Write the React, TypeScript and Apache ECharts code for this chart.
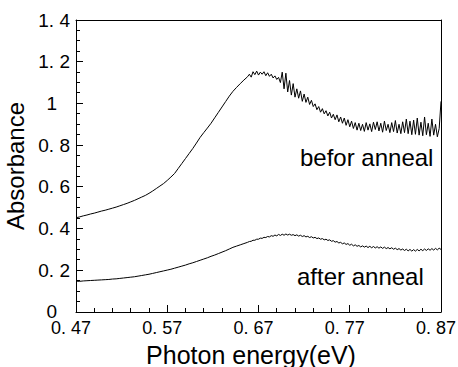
import React, { useEffect, useRef } from "react";
import * as echarts from "echarts";

const energy = [
  0.470, 0.474, 0.478, 0.482, 0.486, 0.490, 0.494, 0.498, 0.502, 0.506,
  0.510, 0.514, 0.518, 0.522, 0.526, 0.530, 0.534, 0.538, 0.542, 0.546,
  0.550, 0.554, 0.558, 0.562, 0.566, 0.570, 0.574, 0.578, 0.582, 0.586,
  0.590, 0.594, 0.598, 0.602, 0.606, 0.610, 0.614, 0.618, 0.622, 0.626,
  0.630, 0.634, 0.638, 0.642, 0.646, 0.650, 0.654,
  0.658, 0.660, 0.662, 0.664, 0.666, 0.668, 0.670, 0.672, 0.674, 0.676,
  0.678, 0.680, 0.682, 0.684, 0.686, 0.688, 0.690, 0.692, 0.694, 0.696,
  0.698, 0.700, 0.702, 0.704, 0.706, 0.708, 0.710, 0.712, 0.714, 0.716,
  0.718, 0.720, 0.722, 0.724, 0.726, 0.728, 0.730, 0.732, 0.734, 0.736,
  0.738, 0.740, 0.742, 0.744, 0.746, 0.748, 0.750, 0.752, 0.754, 0.756,
  0.758, 0.760, 0.762, 0.764, 0.766, 0.768, 0.770, 0.772, 0.774, 0.776,
  0.778, 0.780, 0.782, 0.784, 0.786, 0.788, 0.790, 0.792, 0.794, 0.796,
  0.798, 0.800, 0.802, 0.804, 0.806, 0.808, 0.810, 0.812, 0.814, 0.816,
  0.818, 0.820, 0.822, 0.824, 0.826, 0.828, 0.830, 0.832, 0.834, 0.836,
  0.838, 0.840, 0.842, 0.844, 0.846, 0.848, 0.850, 0.852, 0.854, 0.856,
  0.858, 0.860, 0.862, 0.864, 0.866, 0.868, 0.870,
];

const beforeAnneal = [
  0.452, 0.456, 0.461, 0.465, 0.470, 0.474, 0.479, 0.484, 0.488, 0.493,
  0.498, 0.503, 0.509, 0.515, 0.521, 0.528, 0.535, 0.543, 0.551, 0.559,
  0.569, 0.580, 0.592, 0.604, 0.616, 0.631, 0.647, 0.664, 0.688, 0.712,
  0.736, 0.760, 0.784, 0.810, 0.837, 0.860, 0.882, 0.905, 0.931, 0.957,
  0.983, 1.009, 1.035, 1.058, 1.077, 1.095, 1.112,
  1.128, 1.140, 1.126, 1.152, 1.138, 1.155, 1.136, 1.150, 1.140, 1.152,
  1.133, 1.147, 1.130, 1.140, 1.122, 1.132, 1.115, 1.125, 1.100, 1.150,
  1.070, 1.145, 1.055, 1.110, 1.040, 1.095, 1.030, 1.070, 1.025, 1.060,
  1.010, 1.045, 1.005, 1.030, 0.995, 1.015, 0.985, 0.998, 0.970, 0.985,
  0.958, 0.975, 0.950, 0.965, 0.940, 0.958, 0.930, 0.948, 0.922, 0.945,
  0.912, 0.935, 0.905, 0.930, 0.895, 0.922, 0.888, 0.915, 0.880, 0.908,
  0.872, 0.905, 0.870, 0.900, 0.866, 0.908, 0.872, 0.902, 0.865, 0.910,
  0.875, 0.912, 0.868, 0.905, 0.862, 0.915, 0.870, 0.900, 0.860, 0.908,
  0.865, 0.918, 0.858, 0.900, 0.855, 0.912, 0.860, 0.925, 0.855, 0.915,
  0.850, 0.920, 0.852, 0.930, 0.848, 0.910, 0.845, 0.935, 0.850, 0.905,
  0.842, 0.925, 0.848, 0.900, 0.840, 0.880, 1.010,
];

const afterAnneal = [
  0.148, 0.147, 0.149, 0.150, 0.151, 0.152, 0.153, 0.154, 0.155, 0.156,
  0.158, 0.159, 0.161, 0.163, 0.165, 0.167, 0.169, 0.172, 0.175, 0.178,
  0.181, 0.185, 0.189, 0.193, 0.197, 0.201, 0.205, 0.210, 0.215, 0.220,
  0.225, 0.231, 0.236, 0.242, 0.248, 0.254, 0.260, 0.267, 0.273, 0.280,
  0.287, 0.294, 0.302, 0.310, 0.316, 0.322, 0.328,
  0.334, 0.338, 0.339, 0.344, 0.344, 0.349, 0.349, 0.354, 0.353, 0.358,
  0.357, 0.362, 0.360, 0.366, 0.363, 0.369, 0.365, 0.372, 0.367, 0.373,
  0.368, 0.374, 0.369, 0.373, 0.368, 0.371, 0.366, 0.370, 0.364, 0.368,
  0.362, 0.366, 0.360, 0.363, 0.357, 0.361, 0.355, 0.358, 0.352, 0.355,
  0.349, 0.352, 0.346, 0.349, 0.343, 0.346, 0.339, 0.342, 0.335, 0.338,
  0.331, 0.334, 0.327, 0.331, 0.324, 0.328, 0.320, 0.325, 0.317, 0.322,
  0.315, 0.319, 0.312, 0.317, 0.311, 0.316, 0.309, 0.315, 0.308, 0.314,
  0.307, 0.313, 0.306, 0.312, 0.305, 0.311, 0.304, 0.309, 0.303, 0.308,
  0.301, 0.306, 0.299, 0.304, 0.297, 0.302, 0.295, 0.301, 0.293, 0.300,
  0.292, 0.299, 0.292, 0.300, 0.293, 0.301, 0.294, 0.302, 0.295, 0.303,
  0.296, 0.304, 0.297, 0.305, 0.298, 0.306, 0.300,
];

const xMajorTicks = [0.47, 0.57, 0.67, 0.77, 0.87];
const xMinorTicks = [
  0.49, 0.51, 0.53, 0.55, 0.59, 0.61, 0.63, 0.65,
  0.69, 0.71, 0.73, 0.75, 0.79, 0.81, 0.83, 0.85,
];
const yMajorTicks = [0, 0.2, 0.4, 0.6, 0.8, 1.0, 1.2, 1.4];
const yMinorTicks = [
  0.05, 0.1, 0.15, 0.25, 0.3, 0.35, 0.45, 0.5, 0.55, 0.65, 0.7,
  0.75, 0.85, 0.9, 0.95, 1.05, 1.1, 1.15, 1.25, 1.3, 1.35,
];

const seriesNames = ["befor anneal", "after anneal"];
const xAxisTitle = "Photon energy(eV)";
const yAxisTitle = "Absorbance";

export default function App() {
  const ref = useRef<HTMLDivElement>(null);

  useEffect(() => {
    document.body.style.margin = "0";
    if (!ref.current) return;
    const chart = echarts.init(ref.current, null, { renderer: "svg" });
    const tickFont = "'Liberation Sans', Arial, sans-serif";
    const textFont = "'Liberation Sans', Arial, sans-serif";
    const xMin = xMajorTicks[0];
    const xMax = xMajorTicks[xMajorTicks.length - 1];
    const yMin = yMajorTicks[0];
    const yMax = yMajorTicks[yMajorTicks.length - 1];

    const snap = (n: number) => Math.round(n - 0.5) + 0.5;

    const xTickSeries = (values: number[], len: number) => ({
      type: "custom",
      xAxisIndex: 0,
      yAxisIndex: 0,
      silent: true,
      clip: false,
      z: 5,
      data: values.map((v) => [v, yMin]),
      renderItem: (_params: any, api: any) => {
        const p = api.coord([api.value(0), api.value(1)]);
        const x = snap(p[0]);
        const y = Math.round(p[1]);
        return {
          type: "line",
          shape: { x1: x, y1: y, x2: x, y2: y - len },
          style: { stroke: "#000", lineWidth: 1 },
        };
      },
    });

    const yTickSeries = (values: number[], len: number) => ({
      type: "custom",
      xAxisIndex: 0,
      yAxisIndex: 0,
      silent: true,
      clip: false,
      z: 5,
      data: values.map((v) => [xMin, v]),
      renderItem: (_params: any, api: any) => {
        const p = api.coord([api.value(0), api.value(1)]);
        const y = snap(p[1]);
        const x = Math.round(p[0]);
        return {
          type: "line",
          shape: { x1: x, y1: y, x2: x + len, y2: y },
          style: { stroke: "#000", lineWidth: 1 },
        };
      },
    });

    chart.setOption({
      animation: false,
      backgroundColor: "#ffffff",
      grid: {
        left: 76,
        right: 17,
        top: 20,
        bottom: 55,
        containLabel: false,
        outerBoundsMode: "none",
      },
      xAxis: [
        {
          type: "value",
          position: "bottom",
          min: xMin,
          max: xMax,
          interval: 0.1,
          name: xAxisTitle,
          nameLocation: "middle",
          nameGap: 30,
          nameTextStyle: {
            fontSize: 25,
            fontFamily: textFont,
            color: "#000",
            padding: [0, 15, 0, 0],
          },
          axisLine: { show: true, onZero: false, lineStyle: { color: "#000", width: 1 } },
          axisTick: { show: false },
          minorTick: { show: false },
          splitLine: { show: false },
          minorSplitLine: { show: false },
          axisLabel: {
            show: true,
            margin: 7,
            fontSize: 18,
            fontFamily: tickFont,
            color: "#000",
            padding: [0, 10, 0, 0],
            showMinLabel: true,
            showMaxLabel: true,
            formatter: (v: number) => v.toFixed(2).replace(".", ". "),
          },
        },
        {
          type: "value",
          position: "top",
          min: xMin,
          max: xMax,
          axisLine: { show: true, onZero: false, lineStyle: { color: "#000", width: 1 } },
          axisTick: { show: false },
          axisLabel: { show: false },
          splitLine: { show: false },
        },
      ],
      yAxis: [
        {
          type: "value",
          position: "left",
          min: yMin,
          max: yMax,
          interval: 0.2,
          name: yAxisTitle,
          nameLocation: "middle",
          nameGap: 38,
          nameTextStyle: { fontSize: 24, fontFamily: textFont, color: "#000" },
          axisLine: { show: true, onZero: false, lineStyle: { color: "#000", width: 1 } },
          axisTick: { show: false },
          minorTick: { show: false },
          splitLine: { show: false },
          minorSplitLine: { show: false },
          axisLabel: {
            show: true,
            margin: 6,
            fontSize: 19,
            fontFamily: tickFont,
            color: "#000",
            showMinLabel: true,
            showMaxLabel: true,
            formatter: (v: number) => {
              const r = Math.round(v * 10) / 10;
              if (r === 0) return "{z|0}";
              if (Math.abs(r - Math.round(r)) < 1e-9) return `{i|${Math.round(r)}}`;
              return r.toFixed(1).replace(".", ". ");
            },
            rich: {
              i: { fontSize: 19, fontFamily: tickFont, color: "#000", padding: [0, 13, 0, 0] },
              z: { fontSize: 19, fontFamily: tickFont, color: "#000", padding: [0, 13, 2, 0] },
            },
          },
        },
        {
          type: "value",
          position: "right",
          min: yMin,
          max: yMax,
          axisLine: { show: true, onZero: false, lineStyle: { color: "#000", width: 1 } },
          axisTick: { show: false },
          axisLabel: { show: false },
          splitLine: { show: false },
        },
      ],
      series: [
        {
          name: seriesNames[0],
          type: "line",
          xAxisIndex: 0,
          yAxisIndex: 0,
          showSymbol: false,
          symbol: "none",
          data: energy.map((e, i) => [e, beforeAnneal[i]]),
          lineStyle: { color: "#000", width: 1 },
        },
        {
          name: seriesNames[1],
          type: "line",
          xAxisIndex: 0,
          yAxisIndex: 0,
          showSymbol: false,
          symbol: "none",
          data: energy.map((e, i) => [e, afterAnneal[i]]),
          lineStyle: { color: "#000", width: 1 },
        },
        xTickSeries(xMajorTicks, 7),
        xTickSeries(xMinorTicks, 4),
        yTickSeries(yMajorTicks, 7),
        yTickSeries(yMinorTicks, 4),
      ],
      graphic: [
        {
          type: "text",
          x: 300,
          y: 157,
          style: {
            text: seriesNames[0],
            fontSize: 24,
            fontFamily: textFont,
            fill: "#000",
            align: "left",
            verticalAlign: "middle",
          },
        },
        {
          type: "text",
          x: 297,
          y: 276,
          style: {
            text: seriesNames[1],
            fontSize: 24,
            fontFamily: textFont,
            fill: "#000",
            align: "left",
            verticalAlign: "middle",
          },
        },
      ],
    });

    return () => {
      chart.dispose();
    };
  }, []);

  return <div ref={ref} style={{ width: 458, height: 367 }} />;
}
